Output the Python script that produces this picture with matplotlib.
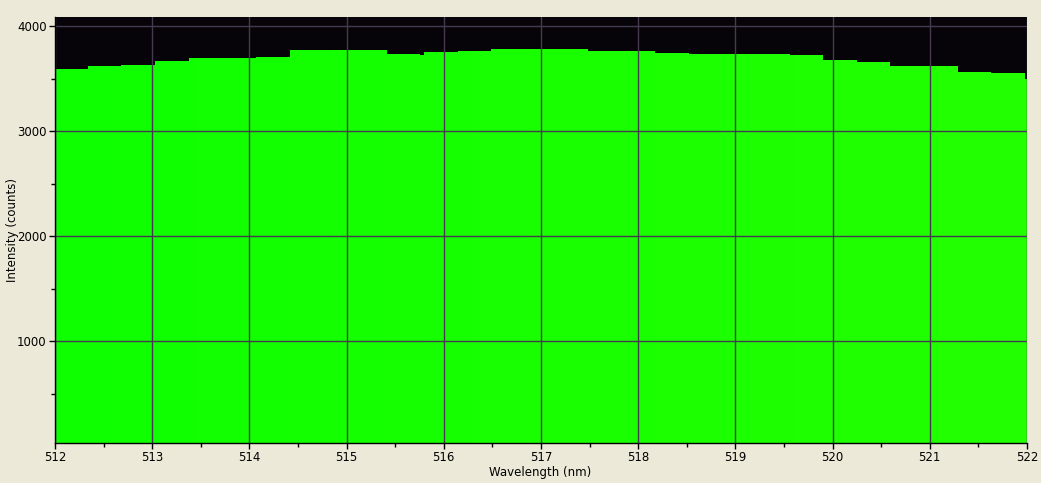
import numpy as np
import matplotlib
matplotlib.use("Agg")
import matplotlib.pyplot as plt
from matplotlib.colors import LinearSegmentedColormap

# Bin edges (nm) and intensities (counts)
bin_edges = [512.000, 512.340, 512.679, 513.029, 513.379, 513.718, 514.068, 514.418,
             514.757, 515.097, 515.416, 515.755, 515.796, 516.146, 516.486, 516.825,
             517.154, 517.484, 517.823, 518.173, 518.523, 518.862, 519.212, 519.562,
             519.901, 520.251, 520.590, 520.940, 521.290, 521.630, 521.979, 522.300]
intensity = [3593, 3622, 3631, 3670, 3698, 3698, 3707, 3774, 3774, 3774, 3736, 3726,
             3755, 3765, 3784, 3784, 3784, 3765, 3765, 3745, 3736, 3736, 3736, 3726,
             3679, 3660, 3622, 3622, 3565, 3555, 3498]
x_ticks = [512, 513, 514, 515, 516, 517, 518, 519, 520, 521, 522]
y_ticks = [1000, 2000, 3000, 4000]

BG = "#ECE9D8"
GRID = "#463A50"

fig = plt.figure(figsize=(10.41, 4.83), dpi=100, facecolor=BG)
ax = fig.add_axes([55/1041, 40/483, 972/1041, 426/483])
ax.set_facecolor("#060409")

xlim = (512, 522)
ylim = (31, 4089)
ax.set_xlim(*xlim)
ax.set_ylim(*ylim)

# Step fill polygon
xs, ys = [bin_edges[0]], [0]
for i, v in enumerate(intensity):
    xs += [bin_edges[i], bin_edges[i + 1]]
    ys += [v, v]
xs.append(bin_edges[-1]); ys.append(0)
poly = ax.fill(xs, ys, color="none", lw=0)[0]

cmap = LinearSegmentedColormap.from_list("g", ["#0EFF00", "#23FF00"])
grad = np.linspace(0, 1, 256).reshape(1, -1)
im = ax.imshow(grad, cmap=cmap, aspect="auto", extent=[xlim[0], xlim[1], ylim[0], ylim[1]],
               origin="lower", zorder=1, interpolation="bilinear")
im.set_clip_path(poly)

ax.set_xticks(x_ticks)
ax.set_yticks(y_ticks)
ax.set_xticks(np.arange(512.5, 522, 1.0), minor=True)
ax.set_yticks([500, 1500, 2500, 3500], minor=True)
ax.grid(True, which="major", color=GRID, lw=1.0, zorder=2)
ax.set_axisbelow(False)

for s in ["top", "right"]:
    ax.spines[s].set_visible(False)
for s in ["left", "bottom"]:
    ax.spines[s].set_color("black")
    ax.spines[s].set_linewidth(1.0)
    ax.spines[s].set_zorder(3)

ax.tick_params(axis="both", which="major", direction="out", length=4, width=1,
               color="black", labelsize=8.5, labelcolor="black", pad=2)
ax.tick_params(axis="both", which="minor", direction="out", length=3, width=1, color="black")

ax.set_xlabel("Wavelength (nm)", fontsize=8.5)
ax.set_ylabel("Intensity (counts)", fontsize=8.5)
ax.xaxis.set_label_coords(0.499, -0.053)
ax.yaxis.set_label_coords(-0.037, 0.5)

fig.savefig("out.png", dpi=100, facecolor=BG)
